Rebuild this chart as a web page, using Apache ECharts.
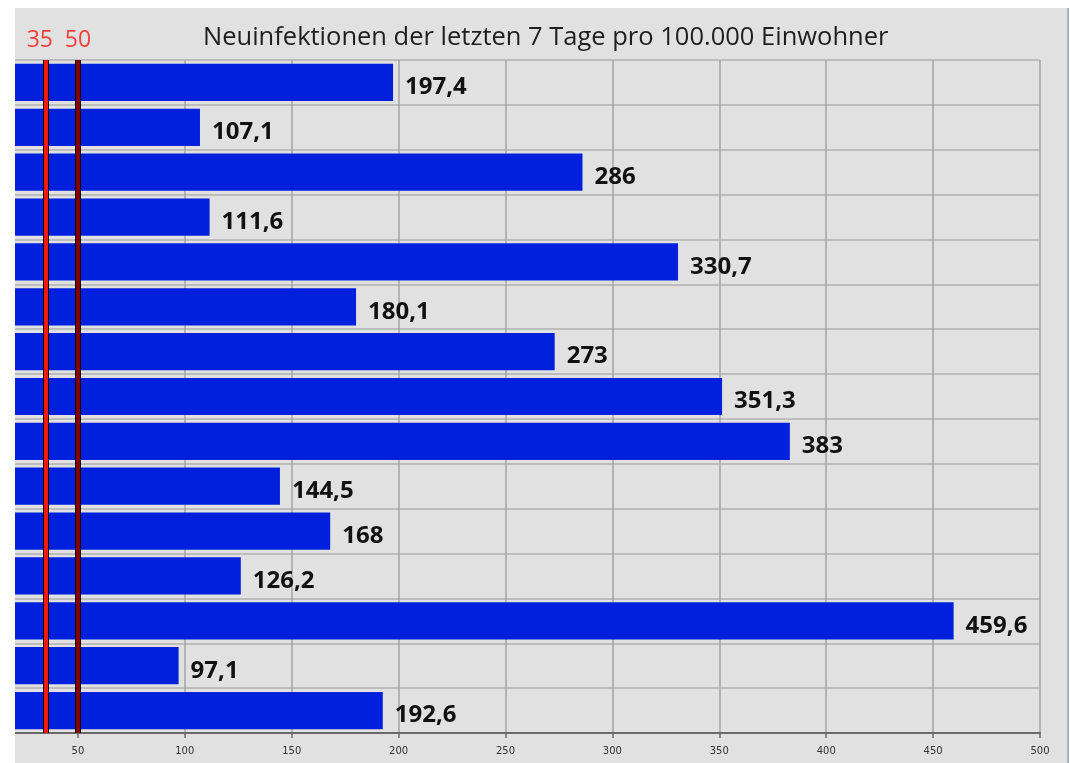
<!DOCTYPE html>
<html>
<head>
    <meta charset="UTF-8">
    <title>Neuinfektionen</title>
    <style>
        *{
            margin: 0;
            padding: 0;
        }
        body{
            background: #fff;
            width: 1070px;
            height: 763px;
            overflow: hidden;
        }
        .frame{
            position: absolute;
            left: 15px;
            top: 8px;
            width: 1052px;
            height: 755px;
            background: #e1e1e1;
            border-right: 2px solid #a9b6c4;
            overflow: hidden;
        }
        /* the original chart is cropped on the left, so the canvas starts before the frame */
        .container{
            position: absolute;
            left: -44px;
            top: 0;
            width: 1096px;
            height: 755px;
        }
    </style>
    <script src="https://cdn.jsdelivr.net/npm/echarts@6/dist/echarts.min.js"></script>
</head>
<body>
<div class="frame"><div class="container"></div></div>
<script>
    // district names are cut off in the original picture
    let categories=['1','2','3','4','5','6','7','8','9','10','11','12','13','14','15']
    let values=[197.4,107.1,286,111.6,330.7,180.1,273,351.3,383,144.5,168,126.2,459.6,97.1,192.6]
    let thresholds=[35,50]
    let thresholdColors=['#ee1a0e','#800000']
    let xTicks=[0,500,50]   // min, max, interval

    let container=document.querySelector('.container')
    let mychart=echarts.init(container)

    let fmt=v=>String(v).replace('.',',')

    let markData=[]
    thresholds.forEach((t,i)=>{
        markData.push({xAxis:t,lineStyle:{color:'#1a0000',width:6,type:'solid'},label:{show:false}})
        markData.push({
            xAxis:t,
            lineStyle:{color:thresholdColors[i],width:4,type:'solid'},
            label:{
                show:true,
                position:'start',
                formatter:String(t),
                color:'#f2403a',
                fontSize:23,
                fontFamily:'Open Sans',
                distance:8,
                offset:[i==0?-6:0,0]
            }
        })
    })

    let option={
        animation:false,
        title:{
            text:'Neuinfektionen der letzten 7 Tage pro 100.000 Einwohner',
            left:227,
            top:12,
            textStyle:{
                fontFamily:'Open Sans',
                fontSize:25.5,
                fontWeight:'normal',
                color:'#1e1e1e'
            }
        },
        grid:{
            left:0,
            right:27,
            top:52,
            bottom:30,
            outerBoundsMode:'none'
        },
        xAxis:{
            type:'value',
            min:xTicks[0],
            max:xTicks[1],
            interval:xTicks[2],
            axisLine:{show:true,lineStyle:{color:'#6a6a6a',width:2}},
            axisTick:{show:true,length:5,lineStyle:{color:'#6a6a6a',width:1.5}},
            axisLabel:{color:'#333',fontSize:10,fontFamily:'DejaVu Sans',margin:13},
            splitLine:{show:true,lineStyle:{color:'#a4a4a4',width:1.5}}
        },
        yAxis:{
            type:'category',
            data:categories,
            inverse:true,
            axisLine:{show:false},
            axisTick:{show:false},
            axisLabel:{show:false},
            splitLine:{show:true,interval:0,lineStyle:{color:'#b0b0b0',width:1.5}}
        },
        series:[{
            type:'bar',
            data:values,
            barCategoryGap:'17%',
            itemStyle:{color:'#0020dd'},
            label:{
                show:true,
                position:'right',
                distance:12,
                offset:[0,5],
                formatter:p=>fmt(p.value),
                color:'#111',
                fontSize:24,
                fontWeight:'bold',
                fontFamily:'Open Sans'
            },
            markLine:{
                symbol:'none',
                silent:true,
                data:markData
            }
        }]
    }
    mychart.setOption(option)
</script>
</body>
</html>
